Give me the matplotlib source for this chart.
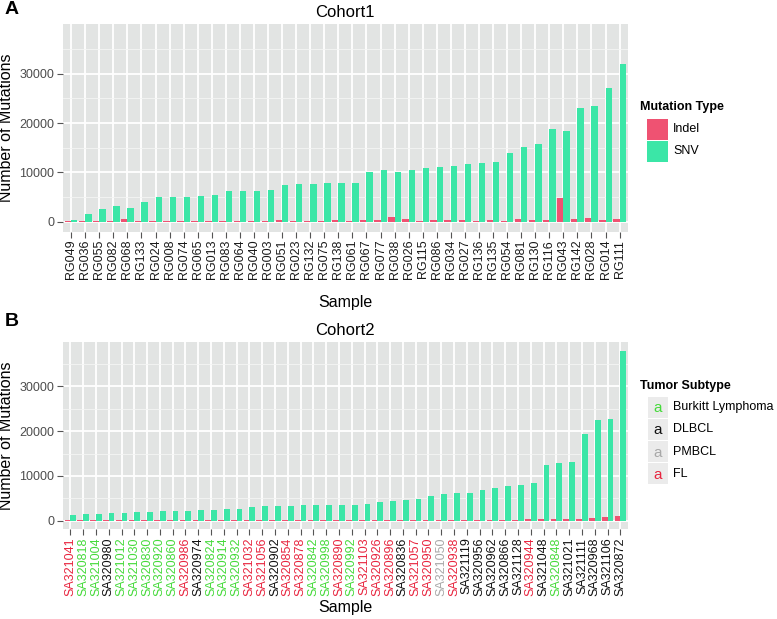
import numpy as np
import matplotlib
matplotlib.use("Agg")
import matplotlib.pyplot as plt
from matplotlib.patches import Rectangle

plt.rcParams['font.family'] = ['Liberation Sans', 'DejaVu Sans']

# ---------------- data ----------------
samples_a = ["RG049", "RG036", "RG055", "RG082", "RG068", "RG133", "RG024", "RG008", "RG074", "RG065",
             "RG013", "RG083", "RG064", "RG040", "RG003", "RG051", "RG023", "RG132", "RG075", "RG138",
             "RG061", "RG067", "RG077", "RG038", "RG026", "RG115", "RG086", "RG034", "RG027", "RG136",
             "RG135", "RG054", "RG081", "RG130", "RG116", "RG043", "RG142", "RG028", "RG014", "RG111"]
snv_a = [300, 1550, 2570, 3250, 2840, 3920, 5000, 5070, 5070, 5200,
         5400, 6220, 6220, 6220, 6420, 7500, 7640, 7640, 7840, 7840,
         7900, 10000, 10480, 10000, 10550, 10950, 11150, 11360, 11700, 11830,
         12170, 14000, 15200, 15750, 18860, 18320, 23050, 23460, 27200, 32000]
indel_a = [100, 150, 120, 200, 540, 150, 200, 180, 200, 170,
           200, 200, 230, 200, 170, 250, 200, 200, 230, 340,
           130, 270, 270, 950, 540, 200, 340, 270, 270, 130,
           340, 70, 470, 340, 300, 4870, 470, 740, 300, 500]

samples_b = ["SA321041", "SA320818", "SA321004", "SA320980", "SA321012", "SA321030", "SA320830", "SA320920",
             "SA320860", "SA320986", "SA320974", "SA320824", "SA320914", "SA320932", "SA321032", "SA321056",
             "SA320902", "SA320854", "SA320878", "SA320842", "SA320998", "SA320890", "SA320992", "SA321103",
             "SA320926", "SA320896", "SA320836", "SA321057", "SA320950", "SA321050", "SA320938", "SA321119",
             "SA320956", "SA320962", "SA320866", "SA321128", "SA320944", "SA321048", "SA320848", "SA321021",
             "SA321111", "SA320968", "SA321106", "SA320872"]
subtype_b = ["FL", "Burkitt Lymphoma", "Burkitt Lymphoma", "DLBCL", "Burkitt Lymphoma", "Burkitt Lymphoma",
             "Burkitt Lymphoma", "Burkitt Lymphoma", "Burkitt Lymphoma", "FL", "DLBCL", "Burkitt Lymphoma",
             "Burkitt Lymphoma", "Burkitt Lymphoma", "FL", "FL", "DLBCL", "FL", "FL", "Burkitt Lymphoma",
             "Burkitt Lymphoma", "FL", "Burkitt Lymphoma", "FL", "FL", "FL", "DLBCL", "FL", "FL", "PMBCL",
             "FL", "DLBCL", "DLBCL", "DLBCL", "DLBCL", "DLBCL", "FL", "DLBCL", "Burkitt Lymphoma", "DLBCL",
             "DLBCL", "DLBCL", "DLBCL", "DLBCL"]
snv_b = [1260, 1480, 1480, 1700, 1700, 1930, 1930, 2150, 2150, 2150, 2370, 2450, 2600, 2670, 3040, 3190,
         3260, 3260, 3490, 3490, 3560, 3560, 3560, 3710, 4080, 4450, 4600, 4820, 5490, 5940, 6080, 6080,
         6830, 7270, 7720, 7940, 8310, 12470, 12910, 13210, 19290, 22400, 22800, 38000]
indel_b = [80, 60, 70, 50, 90, 60, 70, 80, 60, 100, 90, 70, 60, 80, 120, 100,
           90, 110, 100, 80, 90, 120, 90, 150, 130, 120, 140, 160, 150, 130, 170, 200,
           180, 220, 200, 250, 300, 350, 300, 380, 450, 600, 800, 1000]

mutation_types = ["Indel", "SNV"]
subtype_names = ["Burkitt Lymphoma", "DLBCL", "PMBCL", "FL"]

# ---------------- styles ----------------
COL_INDEL = "#EF5272"
COL_SNV = "#3BE6A7"
PANEL_BG = "#E2E4E3"
SUB_COLORS = {"Burkitt Lymphoma": "#45DA3A", "DLBCL": "#111111", "PMBCL": "#A8A8A8", "FL": "#E8253F"}

W, H = 777, 619
fig = plt.figure(figsize=(W / 100, H / 100), dpi=100)


def fx(px):
    return px / W


def fy(py):
    return 1 - py / H


def make_panel(rect, samples, indel, snv, ylim, title, xlabelpad):
    ax = fig.add_axes(rect)
    x = np.arange(len(samples))
    ax.set_facecolor(PANEL_BG)
    ax.bar(x - 0.225, indel, width=0.45, color=COL_INDEL, zorder=2)
    ax.bar(x + 0.225, snv, width=0.45, color=COL_SNV, zorder=2)
    ax.set_xlim(-0.6, len(samples) - 0.4)
    ax.set_ylim(*ylim)
    ax.set_yticks([0, 10000, 20000, 30000])
    ax.set_yticks([5000, 15000, 25000, 35000], minor=True)
    ax.set_xticks(x)
    ax.set_xticklabels(samples, rotation=90, fontsize=9, color="#1A1A1A")
    ax.tick_params(axis='y', which='major', labelsize=9, labelcolor="#4D4D4D",
                   color="#555555", length=4, width=0.8, pad=2)
    ax.tick_params(axis='y', which='minor', length=0)
    ax.tick_params(axis='x', color="#555555", length=4, width=0.8, pad=2)
    ax.grid(which='major', color='white', linewidth=1.3, zorder=0)
    ax.grid(which='minor', axis='y', color='#F4F5F4', linewidth=0.6, zorder=0)
    ax.set_axisbelow(True)
    for s in ax.spines.values():
        s.set_visible(False)
    ax.set_title(title, fontsize=12, pad=5)
    ax.set_xlabel("Sample", fontsize=11.5, labelpad=xlabelpad)
    ax.set_ylabel("Number of Mutations", fontsize=11.5, labelpad=4)
    return ax


axA = make_panel([fx(62.7), fy(231.5), fx(565.3), 207.5 / H], samples_a, indel_a, snv_a,
                 (-1990, 40100), "Cohort1", 11)
axB = make_panel([fx(62.7), fy(529.2), fx(565.3), 187.2 / H], samples_b, indel_b, snv_b,
                 (-1900, 39900), "Cohort2", 3)

for lab, st in zip(axB.get_xticklabels(), subtype_b):
    lab.set_color(SUB_COLORS[st])

fig.text(fx(5), fy(10), "A", fontsize=14, fontweight='bold', ha='left', va='center')
fig.text(fx(5), fy(322), "B", fontsize=14, fontweight='bold', ha='left', va='center')

# legend A
fig.text(fx(640), fy(107), "Mutation Type", fontsize=9, fontweight='bold', ha='left', va='center')
for i, (name, col) in enumerate(zip(mutation_types, [COL_INDEL, COL_SNV])):
    yc = 129 + 22 * i
    fig.patches.append(Rectangle((fx(647), fy(yc + 10.5)), fx(21), 21 / H,
                                 transform=fig.transFigure, facecolor=col, edgecolor='none'))
    fig.text(fx(673), fy(yc), name, fontsize=9, ha='left', va='center')

# legend B
fig.text(fx(640), fy(386), "Tumor Subtype", fontsize=9, fontweight='bold', ha='left', va='center')
for i, name in enumerate(subtype_names):
    yc = 407 + 22.3 * i
    fig.patches.append(Rectangle((fx(648), fy(yc + 10.5)), fx(20), 21 / H,
                                 transform=fig.transFigure, facecolor="#EBEBEB", edgecolor='none'))
    fig.text(fx(658), fy(yc + 1), "a", fontsize=11, color=SUB_COLORS[name], ha='center', va='center')
    fig.text(fx(673), fy(yc), name, fontsize=9, ha='left', va='center')

fig.savefig("out.png", dpi=100)
